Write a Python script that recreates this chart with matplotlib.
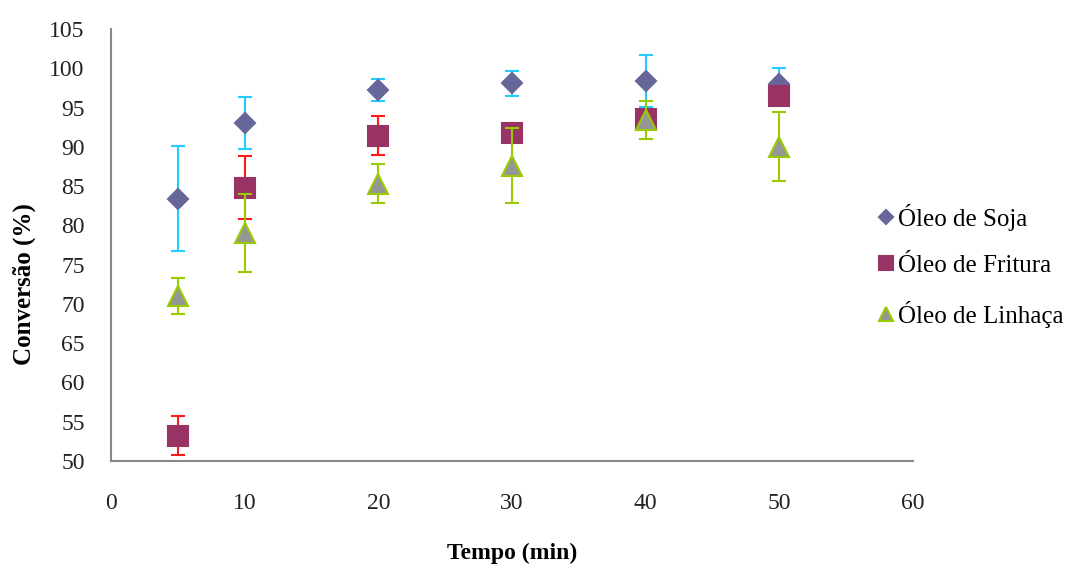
import matplotlib.pyplot as plt
import numpy as np

# Dados
tempo = [5, 10, 20, 30, 40, 50]

soja = [83.4, 93.0, 97.2, 98.1, 98.4, 98.0]
soja_err = [6.7, 3.3, 1.4, 1.6, 3.3, 2.0]

fritura = [53.2, 84.8, 91.4, 91.8, 93.5, 96.5]
fritura_err = [2.5, 4.0, 2.5, 1.0, 1.0, 1.0]

linhaca = [71.0, 79.0, 85.3, 87.6, 93.4, 90.0]
linhaca_err = [2.3, 5.0, 2.5, 4.8, 2.4, 4.4]

plt.rcParams['font.family'] = ['Liberation Serif', 'DejaVu Serif']

fig = plt.figure(figsize=(10.75, 5.68), dpi=100)
ax = fig.add_axes([0.1033, 0.1884, 0.7460, 0.7606])

# (rótulo, y, erro, marcador, tamanho, cor, borda, cor do erro, tamanho na legenda)
series = [
    ('Óleo de Soja', soja, soja_err, 'D', 10, '#666699', '#666699', '#22ccff', 7),
    ('Óleo de Fritura', fritura, fritura_err, 's', 15, '#993366', '#993366', '#ff1a1a', 9.5),
    ('Óleo de Linhaça', linhaca, linhaca_err, '^', 14, '#969696', '#99cc00', '#99cc00', 10),
]

handles = []
for label, y, err, marker, ms, fc, ec, errc, lms in series:
    ax.errorbar(tempo, y, yerr=err, fmt='none', ecolor=errc, elinewidth=1.5,
                capsize=5, capthick=1.5)
    h, = ax.plot(tempo, y, linestyle='', marker=marker, markersize=ms,
                 markerfacecolor=fc, markeredgecolor=ec, markeredgewidth=1.5,
                 label=label)
    handles.append(h)

ax.set_xlim(0, 60)
ax.set_ylim(50, 105)
ax.set_xticks(np.arange(0, 61, 10))
ax.set_yticks(np.arange(50, 106, 5))
ax.tick_params(length=0, labelsize=17, colors='#222222')
ax.tick_params(axis='y', pad=19)
ax.tick_params(axis='x', pad=23)

for side in ['top', 'right']:
    ax.spines[side].set_visible(False)
for side in ['left', 'bottom']:
    ax.spines[side].set_color('#888888')
    ax.spines[side].set_linewidth(1.5)

ax.set_xlabel('Tempo (min)', fontsize=17, fontweight='bold')
ax.xaxis.set_label_coords(512 / 1075, 1 - 543 / 568, transform=fig.transFigure)
ax.set_ylabel('Conversão (%)', fontsize=18, fontweight='bold')
ax.yaxis.set_label_coords(36 / 1075, 0.5, transform=fig.transFigure)

leg = fig.legend(handles=handles, loc='center left',
                 bbox_to_anchor=(877 / 1075, 1 - 266 / 568), frameon=False,
                 fontsize=18, handlelength=0.7, handletextpad=0.15,
                 labelspacing=0.95, borderpad=0, borderaxespad=0)
for h, s in zip(leg.legend_handles, series):
    h.set_markersize(s[8])

fig.savefig('out.png', dpi=100)
